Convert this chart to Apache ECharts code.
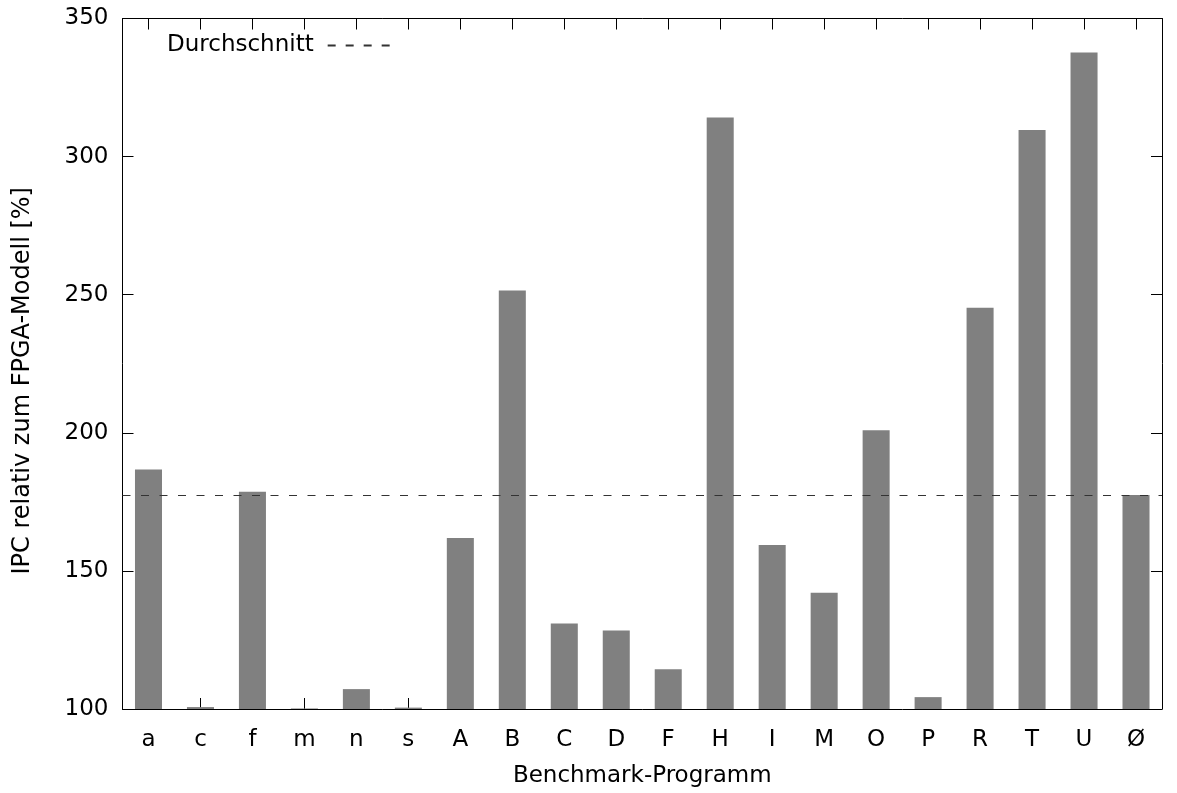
<!DOCTYPE html>
<html>
<head>
<meta charset="utf-8">
<title>IPC relativ zum FPGA-Modell</title>
<script src="https://cdn.jsdelivr.net/npm/echarts@6/dist/echarts.min.js"></script>
<style>
  html, body { margin: 0; padding: 0; background: #ffffff; }
  #chart { width: 1177px; height: 793px; }
</style>
</head>
<body>
<div id="chart"></div>
<script>
// Benchmark programs (short codes) and their IPC relative to the FPGA model, in percent
const categories = ['a', 'c', 'f', 'm', 'n', 's', 'A', 'B', 'C', 'D', 'F', 'H', 'I', 'M', 'O', 'P', 'R', 'T', 'U', 'Ø'];
const ipcValues = [186.7, 100.7, 178.7, 100.2, 107.2, 100.5, 161.9, 251.5, 131.0, 128.4, 114.4, 314.2, 159.4, 142.1, 200.9, 104.3, 245.3, 309.6, 337.7, 177.5];
const averageValue = 177.5;
const yTicks = [100, 150, 200, 250, 300, 350];

const FONT = 'DejaVu Sans';
const FS = 23;
const AXIS_COLOR = '#000000';

const chart = echarts.init(document.getElementById('chart'), null, { renderer: 'canvas' });

const tickStyle = { show: true, inside: true, length: 11, lineStyle: { color: AXIS_COLOR, width: 1 } };

chart.setOption({
  animation: false,
  backgroundColor: '#ffffff',
  textStyle: { fontFamily: FONT },
  grid: { left: 122.5, right: 15, top: 18.5, bottom: 80, containLabel: false },
  legend: {
    show: true,
    left: 162,
    top: 29,
    align: 'right',
    itemWidth: 62,
    itemHeight: 14,
    itemGap: 0,
    itemStyle: { opacity: 0 },
    textStyle: { fontFamily: FONT, fontSize: FS, color: '#000', padding: [0, 9, 0, 0] },
    data: [{ name: 'Durchschnitt' }]
  },
  xAxis: [
    {
      type: 'category',
      data: categories,
      position: 'bottom',
      boundaryGap: true,
      name: 'Benchmark-Programm',
      nameLocation: 'middle',
      nameGap: 56,
      nameTextStyle: { fontFamily: FONT, fontSize: FS, color: '#000' },
      axisLine: { show: true, lineStyle: { color: AXIS_COLOR, width: 1 } },
      axisTick: Object.assign({ alignWithLabel: true }, tickStyle),
      axisLabel: { fontFamily: FONT, fontSize: FS, color: '#000', margin: 20 },
      splitLine: { show: false }
    },
    {
      type: 'category',
      data: categories,
      position: 'top',
      boundaryGap: true,
      axisLine: { show: true, lineStyle: { color: AXIS_COLOR, width: 1 } },
      axisTick: Object.assign({ alignWithLabel: true }, tickStyle),
      axisLabel: { show: false },
      splitLine: { show: false }
    }
  ],
  yAxis: [
    {
      type: 'value',
      min: yTicks[0],
      max: yTicks[yTicks.length - 1],
      interval: yTicks[1] - yTicks[0],
      position: 'left',
      name: 'IPC relativ zum FPGA-Modell [%]',
      nameLocation: 'middle',
      nameGap: 88,
      nameRotate: 90,
      nameTextStyle: { fontFamily: FONT, fontSize: 24, color: '#000', padding: [0, 34, 0, 0] },
      axisLine: { show: true, lineStyle: { color: AXIS_COLOR, width: 1 } },
      axisTick: tickStyle,
      axisLabel: { fontFamily: FONT, fontSize: FS, color: '#000', margin: 14 },
      splitLine: { show: false }
    },
    {
      type: 'value',
      min: yTicks[0],
      max: yTicks[yTicks.length - 1],
      interval: yTicks[1] - yTicks[0],
      position: 'right',
      axisLine: { show: true, lineStyle: { color: AXIS_COLOR, width: 1 } },
      axisTick: tickStyle,
      axisLabel: { show: false },
      splitLine: { show: false }
    }
  ],
  series: [
    {
      name: 'IPC',
      type: 'bar',
      xAxisIndex: 0,
      yAxisIndex: 0,
      data: ipcValues,
      barWidth: '52%',
      clip: true,
      itemStyle: { color: '#808080' },
      z: 2
    },
    {
      // average of all programs, drawn across the whole plot width
      name: 'Durchschnitt',
      type: 'line',
      xAxisIndex: 0,
      yAxisIndex: 0,
      data: [],
      symbol: 'none',
      itemStyle: { color: 'rgba(0,0,0,0)' },
      lineStyle: { color: '#333333', width: 1, type: [8, 10] },
      markLine: {
        silent: true,
        symbol: ['none', 'none'],
        label: { show: false },
        lineStyle: { color: '#333333', width: 1, type: [8, 10.5] },
        data: [{ yAxis: averageValue }]
      },
      z: 5
    }
  ]
});
</script>
</body>
</html>
